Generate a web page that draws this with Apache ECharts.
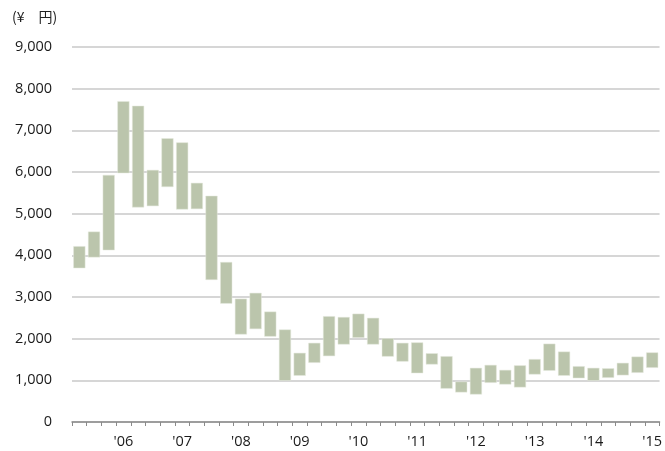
<!DOCTYPE html>
<html>
<head>
<meta charset="utf-8">
<script src="https://cdn.jsdelivr.net/npm/echarts@6/dist/echarts.min.js"></script>
<style>
  html, body { margin: 0; padding: 0; background: #fff; }
  #chart { width: 665px; height: 451px; }
</style>
</head>
<body>
<div id="chart"></div>
<script>
// quarterly price range, 2005 Q2 .. 2015 Q1
var quarters = [
  "05Q2", "05Q3", "05Q4", "06Q1", "06Q2", "06Q3", "06Q4", "07Q1",
  "07Q2", "07Q3", "07Q4", "08Q1", "08Q2", "08Q3", "08Q4", "09Q1",
  "09Q2", "09Q3", "09Q4", "10Q1", "10Q2", "10Q3", "10Q4", "11Q1",
  "11Q2", "11Q3", "11Q4", "12Q1", "12Q2", "12Q3", "12Q4", "13Q1",
  "13Q2", "13Q3", "13Q4", "14Q1", "14Q2", "14Q3", "14Q4", "15Q1"
];
var yearLabels = {
  "06Q1": "'06", "07Q1": "'07", "08Q1": "'08", "09Q1": "'09", "10Q1": "'10",
  "11Q1": "'11", "12Q1": "'12", "13Q1": "'13", "14Q1": "'14", "15Q1": "'15"
};
var lows = [
  3690, 3950, 4120, 5970, 5150, 5180, 5640, 5100, 5110, 3410,
  2840, 2100, 2230, 2050, 990, 1110, 1420, 1580, 1860, 2020,
  1860, 1570, 1450, 1170, 1380, 800, 710, 660, 940, 900,
  830, 1140, 1230, 1110, 1050, 990, 1060, 1120, 1180, 1300
];
var highs = [
  4220, 4570, 5930, 7700, 7590, 6050, 6810, 6710, 5740, 5430,
  3840, 2960, 3100, 2650, 2220, 1660, 1900, 2540, 2520, 2600,
  2500, 2010, 1900, 1910, 1650, 1580, 970, 1300, 1370, 1250,
  1360, 1510, 1880, 1690, 1340, 1300, 1290, 1420, 1570, 1670
];
var yTicks = [0, 1000, 2000, 3000, 4000, 5000, 6000, 7000, 8000, 9000];

var spans = highs.map(function (h, i) { return h - lows[i]; });
var font = "'Open Sans', 'Noto Sans', sans-serif";

var myChart = echarts.init(document.getElementById("chart"));
myChart.setOption({
  animation: false,
  textStyle: { fontFamily: font },
  graphic: [{
    type: "text",
    left: 12,
    top: 10,
    style: { text: "(¥\u3000円)", fontSize: 14, fill: "#222", fontFamily: "'Noto Sans CJK JP', sans-serif" }
  }],
  grid: { left: 72, right: 0, top: 47, bottom: 29, containLabel: false },
  xAxis: {
    type: "category",
    data: quarters,
    boundaryGap: true,
    axisLine: { lineStyle: { color: "#8a8a8a", width: 1.5 } },
    axisTick: { show: true, interval: 0, length: 4, lineStyle: { color: "#8a8a8a" } },
    axisLabel: {
      interval: 0,
      margin: 12,
      fontSize: 14.5,
      color: "#1a1a1a",
      fontFamily: font,
      formatter: function (v) { return yearLabels[v] || ""; }
    }
  },
  yAxis: {
    type: "value",
    min: yTicks[0],
    max: yTicks[yTicks.length - 1],
    interval: 1000,
    axisLine: { show: false },
    axisTick: { show: false },
    splitLine: { lineStyle: { color: "#c8c8c8", width: 1.5 } },
    axisLabel: {
      margin: 20,
      fontSize: 14.5,
      color: "#1a1a1a",
      fontFamily: font,
      formatter: function (v) { return v.toLocaleString("en-US"); }
    }
  },
  series: [
    {
      type: "bar",
      stack: "range",
      data: lows,
      itemStyle: { color: "transparent" },
      barCategoryGap: "18%",
      silent: true
    },
    {
      type: "bar",
      stack: "range",
      data: spans,
      barCategoryGap: "18%",
      itemStyle: { color: "#bbc5ac", borderColor: "#e4e9dc", borderWidth: 0.5 }
    }
  ]
});
</script>
</body>
</html>
